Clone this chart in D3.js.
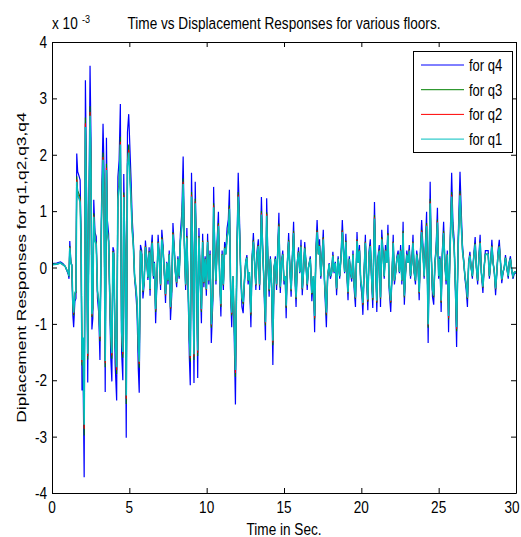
<!DOCTYPE html>
<html>
<head>
<meta charset="utf-8">
<script src="https://cdn.jsdelivr.net/npm/d3@7"></script>
<style>
body { margin: 0; background: #fff; }
text { font-family: "Liberation Sans", Arial, sans-serif; fill: #000; }
</style>
</head>
<body>
<div id="chart"></div>
<script>
// time in seconds
const t = [
  0, 0.3, 0.55, 0.7, 0.85, 0.95, 1.05, 1.1, 1.15, 1.22,
  1.28, 1.35, 1.4, 1.48, 1.55, 1.6, 1.66, 1.75, 1.82, 1.88,
  1.94, 2, 2.08, 2.16, 2.24, 2.31, 2.4, 2.46, 2.52, 2.58,
  2.64, 2.7, 2.78, 2.86, 2.94, 3.02, 3.1, 3.2, 3.3, 3.36,
  3.44, 3.52, 3.58, 3.66, 3.72, 3.8, 3.87, 3.94, 4, 4.08,
  4.18, 4.26, 4.34, 4.42, 4.5, 4.58, 4.64, 4.72, 4.8, 4.88,
  4.96, 5.04, 5.12, 5.18, 5.26, 5.34, 5.42, 5.5, 5.58, 5.64,
  5.72, 5.8, 5.88, 5.96, 6.04, 6.12, 6.2, 6.28, 6.34, 6.4,
  6.48, 6.56, 6.62, 6.7, 6.78, 6.86, 6.94, 7.02, 7.1, 7.18,
  7.26, 7.34, 7.42, 7.5, 7.58, 7.66, 7.74, 7.82, 7.9, 7.98,
  8.06, 8.14, 8.22, 8.3, 8.4, 8.48, 8.56, 8.64, 8.72, 8.8,
  8.88, 8.94, 9.02, 9.1, 9.18, 9.26, 9.34, 9.42, 9.5, 9.58,
  9.66, 9.74, 9.82, 9.9, 9.98, 10.06, 10.14, 10.22, 10.3, 10.4,
  10.45, 10.52, 10.6, 10.68, 10.76, 10.84, 10.92, 11, 11.08, 11.16,
  11.24, 11.32, 11.4, 11.47, 11.55, 11.62, 11.7, 11.78, 11.86, 11.96,
  12.04, 12.12, 12.2, 12.28, 12.36, 12.44, 12.52, 12.6, 12.68, 12.76,
  12.86, 12.94, 13.02, 13.1, 13.18, 13.26, 13.34, 13.42, 13.54, 13.62,
  13.7, 13.8, 13.88, 13.96, 14.04, 14.12, 14.2, 14.28, 14.36, 14.44,
  14.52, 14.6, 14.67, 14.76, 14.84, 14.92, 15, 15.08, 15.14, 15.22,
  15.3, 15.38, 15.46, 15.54, 15.62, 15.7, 15.78, 15.86, 15.94, 16.02,
  16.1, 16.18, 16.26, 16.34, 16.42, 16.5, 16.58, 16.7, 16.8, 16.9,
  16.98, 17.06, 17.14, 17.22, 17.3, 17.38, 17.46, 17.54, 17.62, 17.74,
  17.82, 17.92, 18, 18.08, 18.16, 18.24, 18.32, 18.4, 18.5, 18.6,
  18.7, 18.77, 18.84, 18.92, 19, 19.08, 19.14, 19.22, 19.3, 19.38,
  19.46, 19.54, 19.62, 19.72, 19.8, 19.88, 19.96, 20.04, 20.1, 20.18,
  20.26, 20.34, 20.42, 20.5, 20.58, 20.66, 20.74, 20.85, 20.92, 21,
  21.08, 21.16, 21.24, 21.32, 21.4, 21.48, 21.56, 21.64, 21.72, 21.8,
  21.9, 21.98, 22.06, 22.14, 22.22, 22.3, 22.38, 22.46, 22.54, 22.62,
  22.7, 22.78, 22.86, 22.94, 23.02, 23.1, 23.18, 23.26, 23.34, 23.42,
  23.5, 23.58, 23.66, 23.74, 23.82, 23.9, 23.98, 24.06, 24.14, 24.22,
  24.32, 24.45, 24.52, 24.6, 24.68, 24.76, 24.84, 24.92, 25, 25.08,
  25.16, 25.24, 25.32, 25.4, 25.48, 25.56, 25.64, 25.72, 25.84, 25.92,
  26, 26.08, 26.16, 26.26, 26.38, 26.46, 26.54, 26.62, 26.7, 26.78,
  26.86, 26.94, 27.02, 27.1, 27.18, 27.26, 27.36, 27.44, 27.52, 27.6,
  27.68, 27.76, 27.86, 27.94, 28.02, 28.12, 28.2, 28.28, 28.36, 28.44,
  28.52, 28.6, 28.68, 28.76, 28.84, 28.92, 29, 29.08, 29.16, 29.24,
  29.32, 29.4, 29.5, 29.56, 29.64, 29.72, 29.8, 29.9, 30
];

// displacements, in units of 10^-3
const q4 = [
  0.07, 0.08, 0.1, 0.07, 0.02, -0.05, -0.12, -0.2, 0.47, 0.1,
  0.05, -0.85, -1.06, -0.6, -0.55, 2.02, 1.7, 1.62, 1.55, 0.55,
  -2.18, -1.65, -3.72, 3.32, 1.2, -2.04, 1.4, 3.58, 2.3, -1.1,
  -0.9, 1.2, 0.62, 0.55, -0.55, -0.8, -1.64, 1.1, 2.55, 1.8,
  -2.21, 2.3, 0.84, 0.6, -0.4, -1.6, -2.02, 0.36, 0.3, -1.7,
  -2.36, 1.6, 1.9, 2.9, -1.5, -2, 1.66, 0.2, -3.02, 2.4,
  2.72, 2.1, 1.5, 0.9, 0.5, -0.2, -0.45, -0.8, -1.8, -2.22,
  0.4, 0.3, -0.55, -0.3, 0.48, 0.2, -0.22, 0.36, -0.5, 0.3,
  0.58, -0.2, 0.1, -0.99, -0.3, 0.58, 0.2, -0.4, 0.67, 0.4,
  -0.1, -0.63, 0.1, -0.3, 0.3, -0.93, -0.5, 0.79, 0.4, -0.1,
  -0.35, 0.2, -0.2, 0.6, 1, 1.97, 0.5, -0.4, 0.7, -0.4,
  -1.6, -2.09, 1.68, 0.3, -2.05, 1.52, 0.2, -1.96, 0.7, -0.2,
  -0.99, 0.6, -0.35, 0.2, -0.5, 0.6, -0.3, 0.3, -1.34, -0.6,
  1.43, 0.4, -0.3, 0.5, 0.99, -0.2, -0.87, 0.3, -0.4, 0.45,
  0.3, 0.7, 0.85, 1.38, -0.5, -1.06, -0.2, -1.2, -2.43, 0.4,
  1.68, 0.9, -0.1, -0.7, -0.81, -0.3, 0.1, 0.22, -0.3, -0.1,
  -1.06, 0.2, 0.61, 0.1, -0.4, 0.3, 0.5, -0.4, 1.25, 0.4,
  -0.28, -1.29, 1.23, 0.1, -0.52, 0.2, -0.4, -1.73, 0, 0.2,
  -0.4, 0.4, 0.97, -0.45, 0.1, 0.3, -0.3, -0.2, -0.9, 0.1,
  0.61, 0, -0.52, 0.2, 0.81, -0.1, -0.7, 0.1, 0.36, -0.1,
  0.49, -0.49, -0.1, 0.45, 0.1, -0.4, 0, 0.2, -0.6, -0.2,
  -1.15, 0.3, 0.84, 0.3, 0.5, -0.2, 0.2, 0.67, -0.3, -1.06,
  -0.2, 0.08, -0.2, -0.1, 0.28, -0.1, 0.1, -0.49, 0.2, -0.2,
  0.3, 0.84, 0.4, -0.1, 0.6, -0.2, -0.58, 0.2, -0.1, -0.25,
  0.3, -0.4, -0.7, 0.63, 0.1, 0.4, -0.3, -0.5, -0.84, -0.1,
  0.58, -0.2, -0.76, 0.3, 0.5, -0.2, -0.72, 1.16, 0.2, -0.79,
  0.2, 0.4, -0.7, 0.67, 0.3, -0.2, 0.4, 0.1, 0.76, -0.4,
  -0.79, -0.2, 0.58, -0.3, -0.1, 0.2, 0.3, -0.1, 0.4, -0.3,
  0.81, -0.66, -0.1, 0.3, 0.1, 0.4, -0.2, 0.1, 0.58, -0.1,
  -0.3, 0.3, 0.1, -0.58, 0.3, 0.84, 0.4, -0.2, 0.4, 0.99,
  -1.34, 1.52, 0.3, -0.52, -0.66, 0.1, 0.4, 1.06, -0.2, 0.2,
  -0.79, 0.3, 0.81, 0.1, -0.3, 0.3, -1.15, 0.2, 1.68, 0.8,
  0.5, -0.4, -1.41, 0.5, 1.7, 1, 0.4, 0.13, -0.2, -0.4,
  -0.7, 0.1, 0.28, 0, -0.2, 0.2, 0.54, 0, -0.3, 0.2,
  0.58, -0.1, -0.45, 0, 0.3, 0.3, 0.3, -0.2, 0.1, 0.49,
  0.1, -0.1, -0.49, -0.1, 0.3, 0.49, 0.1, -0.28, -0.1, 0,
  0.22, 0, -0.2, 0.1, 0.2, -0.05, -0.2, -0.1, -0.1
];

const q3 = [
  0.06, 0.06, 0.08, 0.06, 0.02, -0.04, -0.10, -0.16, 0.38, 0.08,
  0.04, -0.68, -0.85, -0.48, -0.44, 1.62, 1.36, 1.30, 1.24, 0.44,
  -1.74, -1.32, -2.98, 2.66, 0.96, -1.63, 1.12, 2.86, 1.84, -0.88,
  -0.72, 0.96, 0.50, 0.44, -0.44, -0.64, -1.31, 0.88, 2.04, 1.44,
  -1.77, 1.84, 0.67, 0.48, -0.32, -1.28, -1.62, 0.29, 0.24, -1.36,
  -1.89, 1.28, 1.52, 2.32, -1.20, -1.60, 1.33, 0.16, -2.42, 1.92,
  2.18, 1.68, 1.20, 0.72, 0.40, -0.16, -0.36, -0.64, -1.44, -1.78,
  0.32, 0.24, -0.44, -0.24, 0.38, 0.16, -0.18, 0.29, -0.40, 0.24,
  0.46, -0.16, 0.08, -0.79, -0.24, 0.46, 0.16, -0.32, 0.54, 0.32,
  -0.08, -0.50, 0.08, -0.24, 0.24, -0.74, -0.40, 0.63, 0.32, -0.08,
  -0.28, 0.16, -0.16, 0.48, 0.80, 1.58, 0.40, -0.32, 0.56, -0.32,
  -1.28, -1.67, 1.34, 0.24, -1.64, 1.22, 0.16, -1.57, 0.56, -0.16,
  -0.79, 0.48, -0.28, 0.16, -0.40, 0.48, -0.24, 0.24, -1.07, -0.48,
  1.14, 0.32, -0.24, 0.40, 0.79, -0.16, -0.70, 0.24, -0.32, 0.36,
  0.24, 0.56, 0.68, 1.10, -0.40, -0.85, -0.16, -0.96, -1.94, 0.32,
  1.34, 0.72, -0.08, -0.56, -0.65, -0.24, 0.08, 0.18, -0.24, -0.08,
  -0.85, 0.16, 0.49, 0.08, -0.32, 0.24, 0.40, -0.32, 1.00, 0.32,
  -0.22, -1.03, 0.98, 0.08, -0.42, 0.16, -0.32, -1.38, 0, 0.16,
  -0.32, 0.32, 0.78, -0.36, 0.08, 0.24, -0.24, -0.16, -0.72, 0.08,
  0.49, 0, -0.42, 0.16, 0.65, -0.08, -0.56, 0.08, 0.29, -0.08,
  0.39, -0.39, -0.08, 0.36, 0.08, -0.32, 0, 0.16, -0.48, -0.16,
  -0.92, 0.24, 0.67, 0.24, 0.40, -0.16, 0.16, 0.54, -0.24, -0.85,
  -0.16, 0.06, -0.16, -0.08, 0.22, -0.08, 0.08, -0.39, 0.16, -0.16,
  0.24, 0.67, 0.32, -0.08, 0.48, -0.16, -0.46, 0.16, -0.08, -0.20,
  0.24, -0.32, -0.56, 0.50, 0.08, 0.32, -0.24, -0.40, -0.67, -0.08,
  0.46, -0.16, -0.61, 0.24, 0.40, -0.16, -0.58, 0.93, 0.16, -0.63,
  0.16, 0.32, -0.56, 0.54, 0.24, -0.16, 0.32, 0.08, 0.61, -0.32,
  -0.63, -0.16, 0.46, -0.24, -0.08, 0.16, 0.24, -0.08, 0.32, -0.24,
  0.65, -0.53, -0.08, 0.24, 0.08, 0.32, -0.16, 0.08, 0.46, -0.08,
  -0.24, 0.24, 0.08, -0.46, 0.24, 0.67, 0.32, -0.16, 0.32, 0.79,
  -1.07, 1.22, 0.24, -0.42, -0.53, 0.08, 0.32, 0.85, -0.16, 0.16,
  -0.63, 0.24, 0.65, 0.08, -0.24, 0.24, -0.92, 0.16, 1.34, 0.64,
  0.40, -0.32, -1.13, 0.40, 1.36, 0.80, 0.32, 0.10, -0.16, -0.32,
  -0.56, 0.08, 0.22, 0, -0.16, 0.16, 0.43, 0, -0.24, 0.16,
  0.46, -0.08, -0.36, 0, 0.24, 0.24, 0.24, -0.16, 0.08, 0.39,
  0.08, -0.08, -0.39, -0.08, 0.24, 0.39, 0.08, -0.22, -0.08, 0,
  0.18, 0, -0.16, 0.08, 0.16, -0.04, -0.16, -0.08, -0.08
];

const q2 = [
  0.05, 0.06, 0.08, 0.05, 0.02, -0.04, -0.09, -0.15, 0.36, 0.08,
  0.04, -0.65, -0.82, -0.46, -0.42, 1.56, 1.31, 1.25, 1.19, 0.42,
  -1.68, -1.27, -2.86, 2.56, 0.92, -1.57, 1.08, 2.76, 1.77, -0.85,
  -0.69, 0.92, 0.48, 0.42, -0.42, -0.62, -1.26, 0.85, 1.96, 1.39,
  -1.70, 1.77, 0.65, 0.46, -0.31, -1.23, -1.56, 0.28, 0.23, -1.31,
  -1.82, 1.23, 1.46, 2.23, -1.16, -1.54, 1.28, 0.15, -2.33, 1.85,
  2.09, 1.62, 1.16, 0.69, 0.39, -0.15, -0.35, -0.62, -1.39, -1.71,
  0.31, 0.23, -0.42, -0.23, 0.37, 0.15, -0.17, 0.28, -0.39, 0.23,
  0.45, -0.15, 0.08, -0.76, -0.23, 0.45, 0.15, -0.31, 0.52, 0.31,
  -0.08, -0.49, 0.08, -0.23, 0.23, -0.72, -0.39, 0.61, 0.31, -0.08,
  -0.27, 0.15, -0.15, 0.46, 0.77, 1.52, 0.39, -0.31, 0.54, -0.31,
  -1.23, -1.61, 1.29, 0.23, -1.58, 1.17, 0.15, -1.51, 0.54, -0.15,
  -0.76, 0.46, -0.27, 0.15, -0.39, 0.46, -0.23, 0.23, -1.03, -0.46,
  1.10, 0.31, -0.23, 0.39, 0.76, -0.15, -0.67, 0.23, -0.31, 0.35,
  0.23, 0.54, 0.65, 1.06, -0.39, -0.82, -0.15, -0.92, -1.87, 0.31,
  1.29, 0.69, -0.08, -0.54, -0.62, -0.23, 0.08, 0.17, -0.23, -0.08,
  -0.82, 0.15, 0.47, 0.08, -0.31, 0.23, 0.39, -0.31, 0.96, 0.31,
  -0.22, -0.99, 0.95, 0.08, -0.40, 0.15, -0.31, -1.33, 0, 0.15,
  -0.31, 0.31, 0.75, -0.35, 0.08, 0.23, -0.23, -0.15, -0.69, 0.08,
  0.47, 0, -0.40, 0.15, 0.62, -0.08, -0.54, 0.08, 0.28, -0.08,
  0.38, -0.38, -0.08, 0.35, 0.08, -0.31, 0, 0.15, -0.46, -0.15,
  -0.89, 0.23, 0.65, 0.23, 0.39, -0.15, 0.15, 0.52, -0.23, -0.82,
  -0.15, 0.06, -0.15, -0.08, 0.22, -0.08, 0.08, -0.38, 0.15, -0.15,
  0.23, 0.65, 0.31, -0.08, 0.46, -0.15, -0.45, 0.15, -0.08, -0.19,
  0.23, -0.31, -0.54, 0.49, 0.08, 0.31, -0.23, -0.39, -0.65, -0.08,
  0.45, -0.15, -0.59, 0.23, 0.39, -0.15, -0.55, 0.89, 0.15, -0.61,
  0.15, 0.31, -0.54, 0.52, 0.23, -0.15, 0.31, 0.08, 0.59, -0.31,
  -0.61, -0.15, 0.45, -0.23, -0.08, 0.15, 0.23, -0.08, 0.31, -0.23,
  0.62, -0.51, -0.08, 0.23, 0.08, 0.31, -0.15, 0.08, 0.45, -0.08,
  -0.23, 0.23, 0.08, -0.45, 0.23, 0.65, 0.31, -0.15, 0.31, 0.76,
  -1.03, 1.17, 0.23, -0.40, -0.51, 0.08, 0.31, 0.82, -0.15, 0.15,
  -0.61, 0.23, 0.62, 0.08, -0.23, 0.23, -0.89, 0.15, 1.29, 0.62,
  0.39, -0.31, -1.09, 0.39, 1.31, 0.77, 0.31, 0.10, -0.15, -0.31,
  -0.54, 0.08, 0.22, 0, -0.15, 0.15, 0.42, 0, -0.23, 0.15,
  0.45, -0.08, -0.35, 0, 0.23, 0.23, 0.23, -0.15, 0.08, 0.38,
  0.08, -0.08, -0.38, -0.08, 0.23, 0.38, 0.08, -0.22, -0.08, 0,
  0.17, 0, -0.15, 0.08, 0.15, -0.04, -0.15, -0.08, -0.08
];

const q1 = [
  0.05, 0.06, 0.08, 0.05, 0.02, -0.04, -0.09, -0.15, 0.35, 0.08,
  0.04, -0.64, -0.80, -0.45, -0.41, 1.52, 1.28, 1.22, 1.16, 0.41,
  -1.64, -1.24, -2.79, 2.49, 0.90, -1.53, 1.05, 2.69, 1.73, -0.83,
  -0.68, 0.90, 0.47, 0.41, -0.41, -0.60, -1.23, 0.83, 1.91, 1.35,
  -1.66, 1.73, 0.63, 0.45, -0.30, -1.20, -1.52, 0.27, 0.23, -1.28,
  -1.77, 1.20, 1.43, 2.18, -1.13, -1.50, 1.25, 0.15, -2.27, 1.80,
  2.04, 1.58, 1.13, 0.68, 0.38, -0.15, -0.34, -0.60, -1.35, -1.67,
  0.30, 0.23, -0.41, -0.23, 0.36, 0.15, -0.17, 0.27, -0.38, 0.23,
  0.44, -0.15, 0.08, -0.74, -0.23, 0.44, 0.15, -0.30, 0.50, 0.30,
  -0.08, -0.47, 0.08, -0.23, 0.23, -0.70, -0.38, 0.59, 0.30, -0.08,
  -0.26, 0.15, -0.15, 0.45, 0.75, 1.48, 0.38, -0.30, 0.53, -0.30,
  -1.20, -1.57, 1.26, 0.23, -1.54, 1.14, 0.15, -1.47, 0.53, -0.15,
  -0.74, 0.45, -0.26, 0.15, -0.38, 0.45, -0.23, 0.23, -1.01, -0.45,
  1.07, 0.30, -0.23, 0.38, 0.74, -0.15, -0.65, 0.23, -0.30, 0.34,
  0.23, 0.53, 0.64, 1.04, -0.38, -0.80, -0.15, -0.90, -1.82, 0.30,
  1.26, 0.68, -0.08, -0.53, -0.61, -0.23, 0.08, 0.17, -0.23, -0.08,
  -0.80, 0.15, 0.46, 0.08, -0.30, 0.23, 0.38, -0.30, 0.94, 0.30,
  -0.21, -0.97, 0.92, 0.08, -0.39, 0.15, -0.30, -1.30, 0, 0.15,
  -0.30, 0.30, 0.73, -0.34, 0.08, 0.23, -0.23, -0.15, -0.68, 0.08,
  0.46, 0, -0.39, 0.15, 0.61, -0.08, -0.53, 0.08, 0.27, -0.08,
  0.37, -0.37, -0.08, 0.34, 0.08, -0.30, 0, 0.15, -0.45, -0.15,
  -0.86, 0.23, 0.63, 0.23, 0.38, -0.15, 0.15, 0.50, -0.23, -0.80,
  -0.15, 0.06, -0.15, -0.08, 0.21, -0.08, 0.08, -0.37, 0.15, -0.15,
  0.23, 0.63, 0.30, -0.08, 0.45, -0.15, -0.44, 0.15, -0.08, -0.19,
  0.23, -0.30, -0.53, 0.47, 0.08, 0.30, -0.23, -0.38, -0.63, -0.08,
  0.44, -0.15, -0.57, 0.23, 0.38, -0.15, -0.54, 0.87, 0.15, -0.59,
  0.15, 0.30, -0.53, 0.50, 0.23, -0.15, 0.30, 0.08, 0.57, -0.30,
  -0.59, -0.15, 0.44, -0.23, -0.08, 0.15, 0.23, -0.08, 0.30, -0.23,
  0.61, -0.50, -0.08, 0.23, 0.08, 0.30, -0.15, 0.08, 0.44, -0.08,
  -0.23, 0.23, 0.08, -0.44, 0.23, 0.63, 0.30, -0.15, 0.30, 0.74,
  -1.01, 1.14, 0.23, -0.39, -0.50, 0.08, 0.30, 0.80, -0.15, 0.15,
  -0.59, 0.23, 0.61, 0.08, -0.23, 0.23, -0.86, 0.15, 1.26, 0.60,
  0.38, -0.30, -1.06, 0.38, 1.28, 0.75, 0.30, 0.10, -0.15, -0.30,
  -0.53, 0.08, 0.21, 0, -0.15, 0.15, 0.41, 0, -0.23, 0.15,
  0.44, -0.08, -0.34, 0, 0.23, 0.23, 0.23, -0.15, 0.08, 0.37,
  0.08, -0.08, -0.37, -0.08, 0.23, 0.37, 0.08, -0.21, -0.08, 0,
  0.17, 0, -0.15, 0.08, 0.15, -0.04, -0.15, -0.08, -0.08
];

const xTicks = [0, 5, 10, 15, 20, 25, 30];
const yTicks = [-4, -3, -2, -1, 0, 1, 2, 3, 4];
const seriesNames = ["for q4", "for q3", "for q2", "for q1"];
const seriesColors = ["#0000ff", "#008000", "#ff0000", "#00bfbf"];
const seriesWidths = [1.2, 1.1, 1.1, 1.6];

const svgWidth = 521;
const svgHeight = 537;
const margin = { top: 42, right: 5, bottom: 44, left: 52 };
const width = svgWidth - margin.left - margin.right;
const height = svgHeight - margin.top - margin.bottom;

// the picture is stretched vertically, so the text is too
const stretch = 1.28;
const fontSize = 13.6;

const svg = d3.select("#chart")
    .append("svg")
    .attr("width", svgWidth)
    .attr("height", svgHeight);

const x = d3.scaleLinear().domain([0, 30]).range([margin.left, margin.left + width]);
const y = d3.scaleLinear().domain([-4, 4]).range([margin.top + height, margin.top]);

function label(px, py, str, opts = {}) {
    const size = opts.size || fontSize;
    const rot = opts.rotate || 0;
    const sc = rot ? `scale(${stretch},1)` : `scale(1,${stretch})`;
    return svg.append("g")
        .attr("transform", `translate(${px},${py}) rotate(${rot}) ${sc}`)
        .append("text")
        .attr("text-anchor", opts.anchor || "middle")
        .style("font-size", size + "px")
        .text(str);
}

// series: q4 first, q1 last on top
const seriesData = [q4, q3, q2, q1];
const line = d3.line()
    .x((d, i) => x(t[i]))
    .y(d => y(d));

svg.append("g")
    .selectAll("path")
    .data(seriesData)
    .join("path")
    .attr("d", d => line(d))
    .attr("fill", "none")
    .attr("stroke", (d, i) => seriesColors[i])
    .attr("stroke-width", (d, i) => seriesWidths[i]);

// box axes, ticks pointing in
const axes = [
    [d3.axisBottom(x).tickValues(xTicks).tickSizeInner(-5), `translate(0,${margin.top + height})`],
    [d3.axisTop(x).tickValues(xTicks).tickSizeInner(-5), `translate(0,${margin.top})`],
    [d3.axisLeft(y).tickValues(yTicks).tickSizeInner(-5), `translate(${margin.left},0)`],
    [d3.axisRight(y).tickValues(yTicks).tickSizeInner(-5), `translate(${margin.left + width},0)`]
];
axes.forEach(([ax, tr]) => {
    const g = svg.append("g")
        .attr("transform", tr)
        .call(ax.tickSizeOuter(0).tickFormat(""));
    g.selectAll("path, line").attr("stroke", "#000");
});

// tick labels (last one pulled in so it stays on the page)
xTicks.forEach((v, i) => {
    const px = i === xTicks.length - 1 ? x(v) - 4 : x(v);
    label(px, margin.top + height + 20, String(v));
});
yTicks.forEach(v => label(margin.left - 5, y(v) + 6, String(v), { anchor: "end" }));

// exponent
label(52, 29, "x 10", { anchor: "start" });
label(82, 23, "-3", { anchor: "start", size: 9 });

// title and axis labels
label(margin.left + width / 2, 29, "Time vs Displacement Responses for various floors.");
label(margin.left + width / 2, 535, "Time in Sec.");
label(26, margin.top + height / 2, "Diplacement Responses for q1,q2,q3,q4", { rotate: -90 });

// legend
const legend = svg.append("g");
legend.append("rect")
    .attr("x", 413.5)
    .attr("y", 51.5)
    .attr("width", 99)
    .attr("height", 101)
    .attr("fill", "#fff")
    .attr("stroke", "#000");

seriesNames.forEach((name, i) => {
    const ly = 65 + i * 24.7;
    legend.append("line")
        .attr("x1", 421)
        .attr("x2", 464)
        .attr("y1", ly)
        .attr("y2", ly)
        .attr("stroke", seriesColors[i])
        .attr("stroke-width", 1);
    label(469, ly + 6, name, { anchor: "start", size: 13 });
});
</script>
</body>
</html>
